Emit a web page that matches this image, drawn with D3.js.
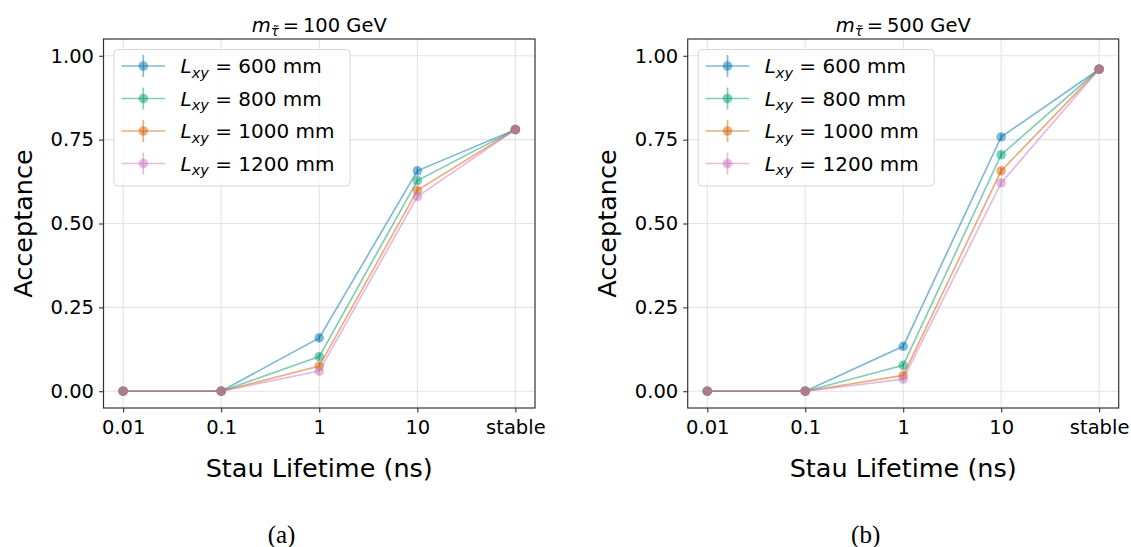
<!DOCTYPE html>
<html>
<head>
<meta charset="utf-8">
<script src="https://cdn.jsdelivr.net/npm/d3@7"></script>
<style>
  html, body { margin: 0; padding: 0; background: #fff; }
  svg { display: block; }
</style>
</head>
<body>
<svg id="fig" width="1131" height="547" font-family="DejaVu Sans, sans-serif"></svg>
<script>
// Stau lifetime categories on the x axis
const lifetimes = ["0.01", "0.1", "1", "10", "stable"];
// Displaced-vertex transverse distance cuts (mm)
const distances = [600, 800, 1000, 1200];
const seriesColors = ["#0173b2", "#029e73", "#d55e00", "#cc78bc"];
const yTicks = [0, 0.25, 0.5, 0.75, 1.0];

// Acceptance, m(stau) = 100 GeV
const m100_L600  = [0, 0, 0.159, 0.657, 0.780];
const m100_L800  = [0, 0, 0.103, 0.628, 0.780];
const m100_L1000 = [0, 0, 0.075, 0.599, 0.780];
const m100_L1200 = [0, 0, 0.060, 0.580, 0.780];
const m100_err   = [0, 0, 0.010, 0.010, 0.006];

// Acceptance, m(stau) = 500 GeV
const m500_L600  = [0, 0, 0.134, 0.758, 0.960];
const m500_L800  = [0, 0, 0.077, 0.705, 0.960];
const m500_L1000 = [0, 0, 0.047, 0.657, 0.960];
const m500_L1200 = [0, 0, 0.036, 0.621, 0.960];
const m500_err   = [0, 0, 0.010, 0.010, 0.006];

const panels = [
  { mass: 100, caption: "(a)", left: 103.5, right: 535,
    series: [m100_L600, m100_L800, m100_L1000, m100_L1200], err: m100_err },
  { mass: 500, caption: "(b)", left: 687.7, right: 1118.7,
    series: [m500_L600, m500_L800, m500_L1000, m500_L1200], err: m500_err }
];

const plotTop = 39, plotBottom = 408;
const svg = d3.select("#fig");
const ALPHA = 0.5;

panels.forEach(p => {
  const g = svg.append("g");
  const x = d3.scalePoint().domain(lifetimes).range([p.left, p.right]).padding(0.2);
  const y = d3.scaleLinear().domain([-0.05, 1.05]).range([plotBottom, plotTop]);
  const cx = (p.left + p.right) / 2;

  // grid
  const grid = g.append("g").attr("stroke", "#e3e3e3").attr("stroke-width", 1.1);
  lifetimes.forEach(c => grid.append("line")
    .attr("x1", x(c)).attr("x2", x(c)).attr("y1", plotTop).attr("y2", plotBottom));
  yTicks.forEach(v => grid.append("line")
    .attr("x1", p.left).attr("x2", p.right).attr("y1", y(v)).attr("y2", y(v)));

  // axes
  const xAxis = g.append("g").attr("transform", `translate(0,${plotBottom})`)
    .call(d3.axisBottom(x).tickSize(4.5).tickPadding(5));
  const yAxis = g.append("g").attr("transform", `translate(${p.left},0)`)
    .call(d3.axisLeft(y).tickValues(yTicks).tickFormat(d3.format(".2f")).tickSize(4.5).tickPadding(5));
  [xAxis, yAxis].forEach(a => {
    a.attr("font-family", null).attr("font-size", 19.5);
    a.select(".domain").remove();
    a.selectAll(".tick line").attr("stroke", "#333").attr("stroke-width", 1.1);
    a.selectAll(".tick text").attr("fill", "#000");
  });
  xAxis.selectAll(".tick text").attr("dy", "0.85em");

  // series
  p.series.forEach((vals, si) => {
    const col = seriesColors[si];
    const pts = vals.map((v, i) => ({ c: lifetimes[i], v, e: p.err[i] }));
    g.append("path").datum(pts)
      .attr("fill", "none").attr("stroke", col).attr("stroke-width", 1.7)
      .attr("stroke-opacity", ALPHA)
      .attr("d", d3.line().x(d => x(d.c)).y(d => y(d.v)));
    g.selectAll(null).data(pts.filter(d => d.e > 0)).enter().append("line")
      .attr("x1", d => x(d.c)).attr("x2", d => x(d.c))
      .attr("y1", d => y(d.v - d.e)).attr("y2", d => y(d.v + d.e))
      .attr("stroke", col).attr("stroke-width", 1.7).attr("stroke-opacity", ALPHA);
    g.selectAll(null).data(pts).enter().append("circle")
      .attr("cx", d => x(d.c)).attr("cy", d => y(d.v)).attr("r", 4.8)
      .attr("fill", col).attr("fill-opacity", ALPHA);
  });

  // frame
  g.append("rect").attr("x", p.left).attr("y", plotTop)
    .attr("width", p.right - p.left).attr("height", plotBottom - plotTop)
    .attr("fill", "none").attr("stroke", "#333").attr("stroke-width", 1.2);

  // legend
  const lx = p.left + 10.5, ly = 49.5;
  const lg = g.append("g");
  lg.append("rect").attr("x", lx).attr("y", ly).attr("width", 236).attr("height", 136.5)
    .attr("rx", 4).attr("fill", "#fff").attr("fill-opacity", 0.8)
    .attr("stroke", "#d6d6d6").attr("stroke-width", 1);
  distances.forEach((dist, si) => {
    const col = seriesColors[si];
    const ry = ly + 16.5 + si * 32.5;
    lg.append("line").attr("x1", lx + 7.5).attr("x2", lx + 51).attr("y1", ry).attr("y2", ry)
      .attr("stroke", col).attr("stroke-width", 1.7).attr("stroke-opacity", ALPHA);
    lg.append("line").attr("x1", lx + 29.3).attr("x2", lx + 29.3).attr("y1", ry - 11).attr("y2", ry + 11)
      .attr("stroke", col).attr("stroke-width", 1.7).attr("stroke-opacity", ALPHA);
    lg.append("circle").attr("cx", lx + 29.3).attr("cy", ry).attr("r", 4.8)
      .attr("fill", col).attr("fill-opacity", ALPHA);
    const t = lg.append("text").attr("x", lx + 66.5).attr("y", ry + 7).attr("font-size", 20);
    t.append("tspan").attr("font-style", "italic").text("L");
    t.append("tspan").attr("font-style", "italic").attr("font-size", 14.5).attr("dy", 4.5).text("xy");
    t.append("tspan").attr("dy", -4.5).text(` = ${dist} mm`);
  });

  // title
  const tt = g.append("text").attr("x", cx).attr("y", 31.5).attr("text-anchor", "middle").attr("font-size", 19.5);
  tt.append("tspan").attr("font-style", "italic").text("m");
  tt.append("tspan").attr("font-style", "italic").attr("font-size", 13.5).attr("dy", 4).text("\u03c4\u0303");
  tt.append("tspan").attr("dy", -4).text(`\u2009=\u2009${p.mass} GeV`);

  // axis labels
  g.append("text").attr("x", cx).attr("y", 477).attr("text-anchor", "middle")
    .attr("font-size", 25.5).text("Stau Lifetime (ns)");
  g.append("text").attr("transform", `translate(${p.left - 72},${(plotTop + plotBottom) / 2}) rotate(-90)`)
    .attr("text-anchor", "middle").attr("font-size", 25.5).text("Acceptance");

  // sub-figure caption
  g.append("text").attr("x", p.left + 178).attr("y", 543).attr("text-anchor", "middle")
    .attr("font-family", "Liberation Serif, serif").attr("font-size", 25).text(p.caption);
});
</script>
</body>
</html>
